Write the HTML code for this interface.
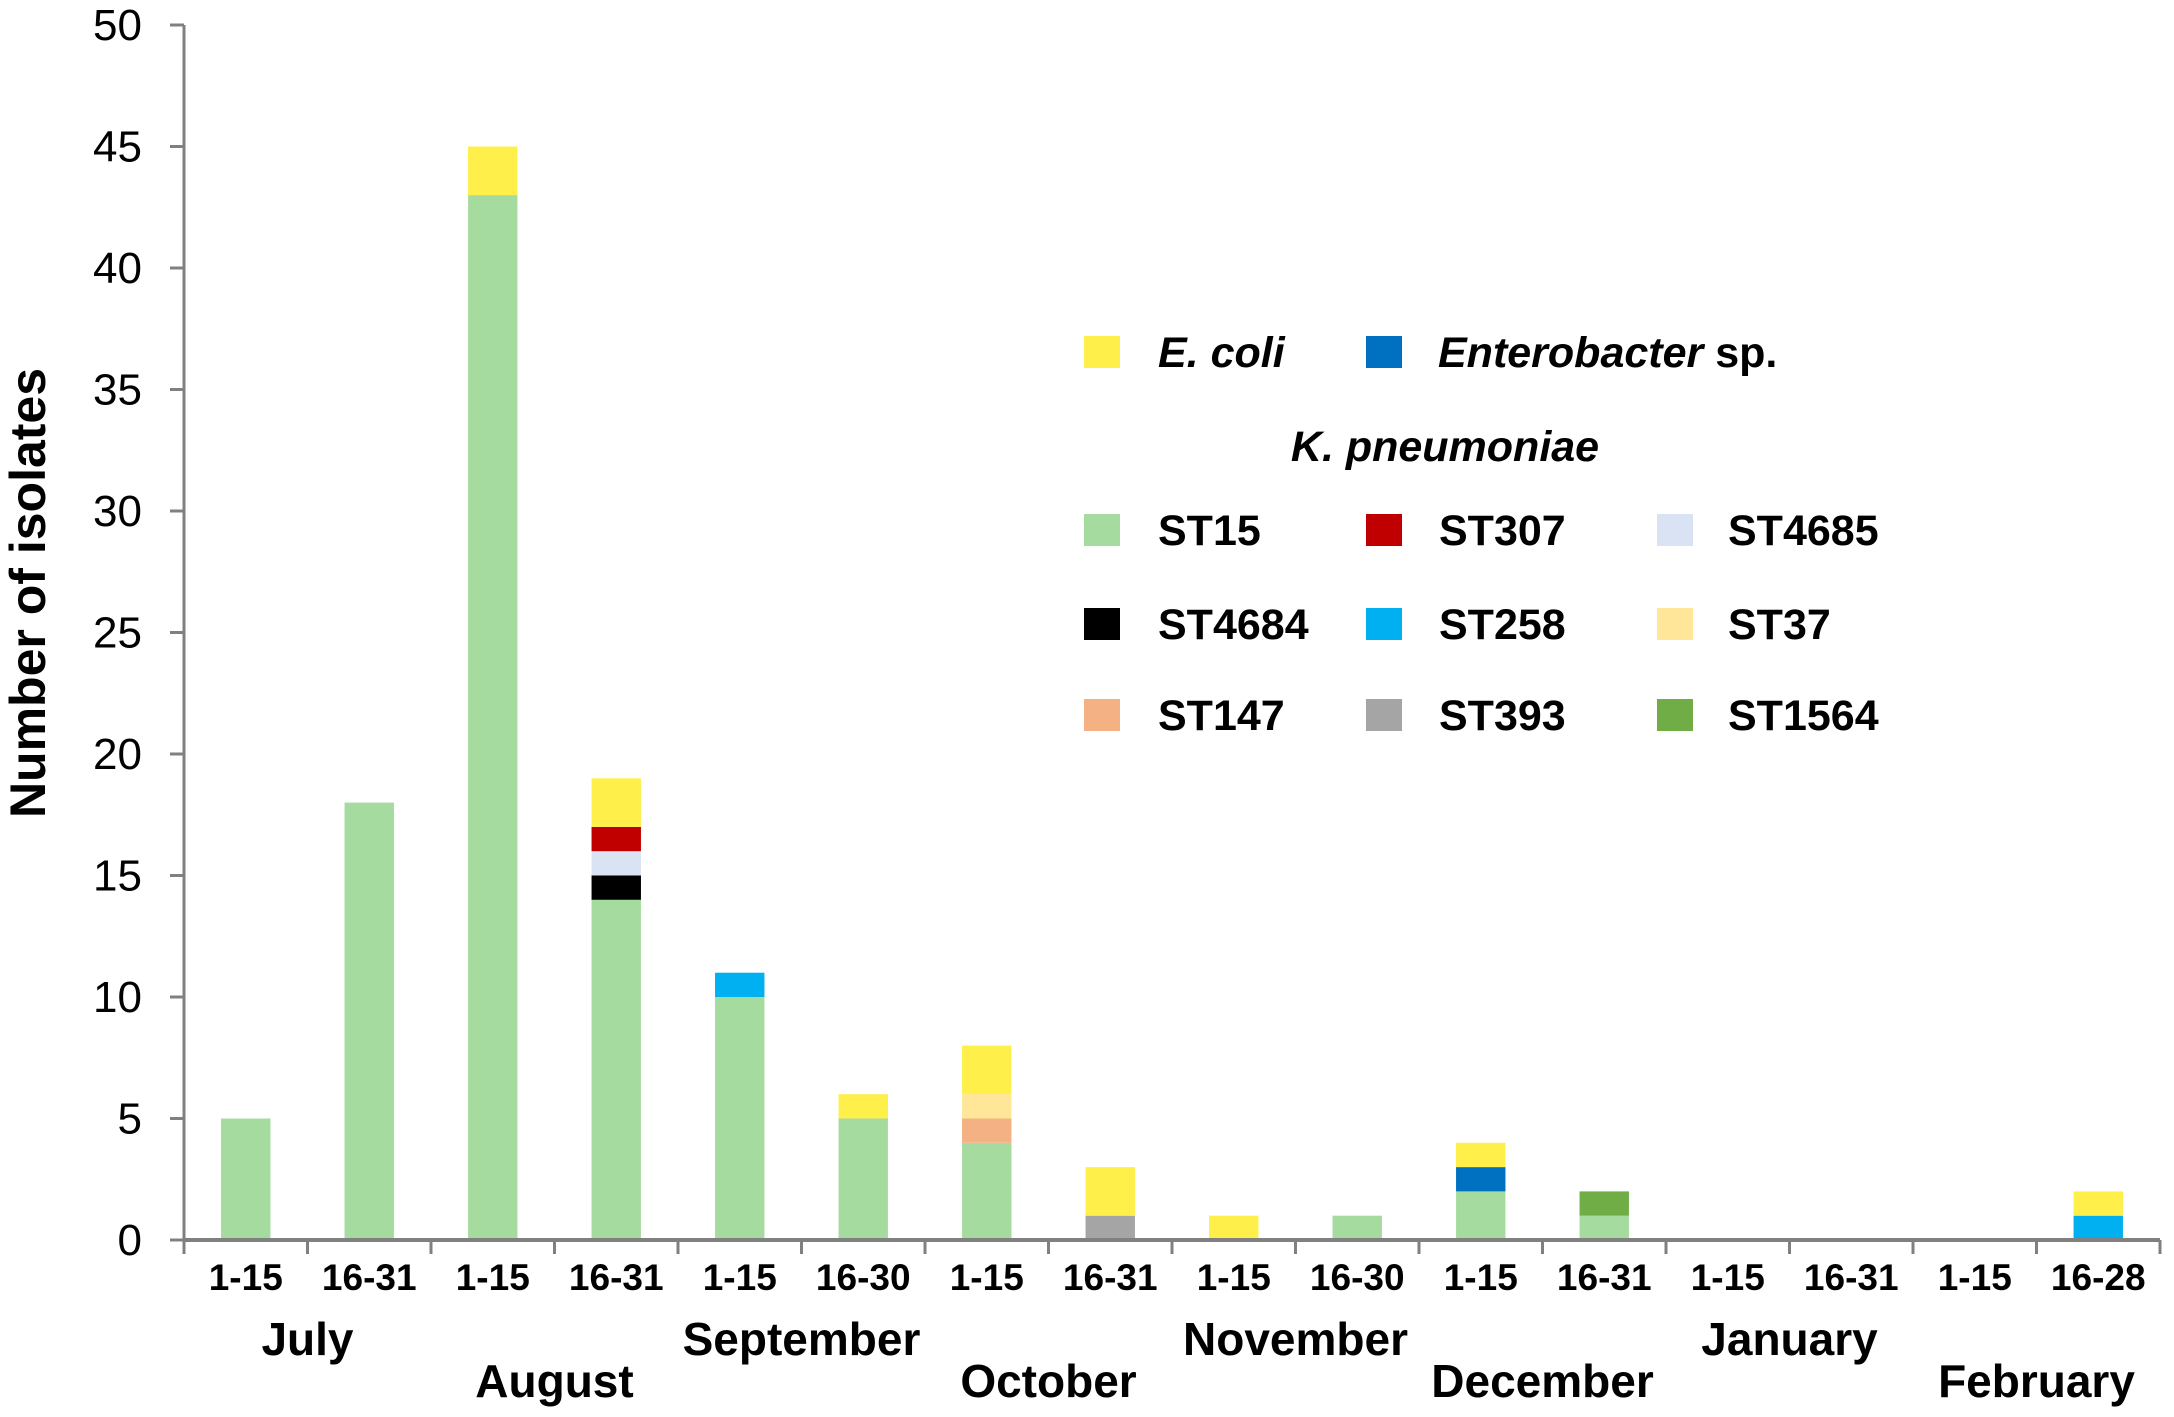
<!DOCTYPE html>
<html><head><meta charset="utf-8"><style>
html,body{margin:0;padding:0;background:#fff;}
svg{display:block;font-family:"Liberation Sans",Arial,sans-serif;}
</style></head><body>
<svg id="chart" width="2174" height="1417" viewBox="0 0 2174 1417" xmlns="http://www.w3.org/2000/svg"></svg>
<script>
const periods = ["1-15","16-31","1-15","16-31","1-15","16-30","1-15","16-31","1-15","16-30","1-15","16-31","1-15","16-31","1-15","16-28"];
const months = ["July","August","September","October","November","December","January","February"];
const yTicks = [0,5,10,15,20,25,30,35,40,45,50];
const seriesNames = ["ST15","ST4684","ST4685","ST307","ST258","ST147","ST37","ST393","ST1564","Enterobacter","E. coli"];
const st15 =        [5,18,43,14,10,5,4,0,0,1,2,1,0,0,0,0];
const st4684 =      [0,0,0,1,0,0,0,0,0,0,0,0,0,0,0,0];
const st4685 =      [0,0,0,1,0,0,0,0,0,0,0,0,0,0,0,0];
const st307 =       [0,0,0,1,0,0,0,0,0,0,0,0,0,0,0,0];
const st258 =       [0,0,0,0,1,0,0,0,0,0,0,0,0,0,0,1];
const st147 =       [0,0,0,0,0,0,1,0,0,0,0,0,0,0,0,0];
const st37 =        [0,0,0,0,0,0,1,0,0,0,0,0,0,0,0,0];
const st393 =       [0,0,0,0,0,0,0,1,0,0,0,0,0,0,0,0];
const st1564 =      [0,0,0,0,0,0,0,0,0,0,0,1,0,0,0,0];
const enterobacter =[0,0,0,0,0,0,0,0,0,0,1,0,0,0,0,0];
const ecoli =       [0,0,2,2,0,1,2,2,1,0,1,0,0,0,0,1];

const seriesData = [st15,st4684,st4685,st307,st258,st147,st37,st393,st1564,enterobacter,ecoli];
const colors = ["#a6dba0","#000000","#dae3f3","#c00000","#00b0f0","#f4b183","#ffe699","#a5a5a5","#70ad47","#0070c0","#ffef4a"];

const NS="http://www.w3.org/2000/svg";
const svg=document.getElementById('chart');
const X0=184,X1=2160,Y0=1240,Ytop=25,YMAX=50;
const bw=(X1-X0)/periods.length;
const y=v=>Y0-(v/YMAX)*(Y0-Ytop);
const xc=i=>X0+bw*(i+0.5);
function el(t,a,txt){const e=document.createElementNS(NS,t);for(const k in a)e.setAttribute(k,a[k]);if(txt!==undefined)e.textContent=txt;svg.appendChild(e);return e;}

let ax=el('line',{x1:X0,y1:Ytop,x2:X0,y2:Y0,stroke:'#808080','stroke-width':3});

yTicks.forEach(t=>{
  let l=el('line',{x1:X0-14,y1:y(t),x2:X0,y2:y(t),stroke:'#808080','stroke-width':3});
  
  let tx=el('text',{x:X0-42,y:y(t)+15,'text-anchor':'end','font-size':44,fill:'#000'},t);
  
});
let yt=el('text',{x:0,y:0,transform:'translate(45,593) rotate(-90)','text-anchor':'middle','font-size':50,'font-weight':'bold'},'Number of isolates');


periods.forEach((p,i)=>{
  let acc=0;
  seriesData.forEach((s,k)=>{
    const v=s[i]; if(!v) return;
    const r=el('rect',{x:xc(i)-bw*0.2,y:y(acc+v),width:bw*0.4,height:y(acc)-y(acc+v),fill:colors[k]});
    
    
    acc+=v;
  });
});

let xa=el('line',{x1:X0,y1:Y0,x2:X1,y2:Y0,stroke:'#808080','stroke-width':4});

for(let i=0;i<=periods.length;i++){
  let l=el('line',{x1:X0+bw*i,y1:Y0,x2:X0+bw*i,y2:Y0+14,stroke:'#808080','stroke-width':3});
  
}
periods.forEach((p,i)=>{
  let t=el('text',{x:xc(i),y:1290,'text-anchor':'middle','font-size':37,'font-weight':'bold'},p);
  
});
months.forEach((m,j)=>{
  let t=el('text',{x:X0+bw*(2*j+1),y:j%2?1397:1355,'text-anchor':'middle','font-size':46,'font-weight':'bold'},m);
  
});

function leg(sx,sy,color,label,tx,italicHTML){
  let r=el('rect',{x:sx,y:sy-16,width:36,height:32,fill:color});
  
  let t=el('text',{x:tx,y:sy+15,'font-size':43,'font-weight':'bold'});
  
  t.innerHTML=italicHTML||label;
}
leg(1084,352,'#ffef4a','E. coli',1158,'<tspan font-style="italic">E. coli</tspan>');
leg(1366,352,'#0070c0','Enterobacter sp.',1438,'<tspan font-style="italic">Enterobacter</tspan> sp.');
let kp=el('text',{x:1445,y:461,'text-anchor':'middle','font-size':43,'font-weight':'bold','font-style':'italic'},'K. pneumoniae');

const legRows=[[["ST15","#a6dba0"],["ST307","#c00000"],["ST4685","#dae3f3"]],[["ST4684","#000000"],["ST258","#00b0f0"],["ST37","#ffe699"]],[["ST147","#f4b183"],["ST393","#a5a5a5"],["ST1564","#70ad47"]]];
const rowY=[530,624,715],swX=[1084,1366,1657],txX=[1158,1439,1728];
legRows.forEach((row,r)=>row.forEach((e,c)=>leg(swX[c],rowY[r],e[1],e[0],txX[c])));
</script>
</body></html>
